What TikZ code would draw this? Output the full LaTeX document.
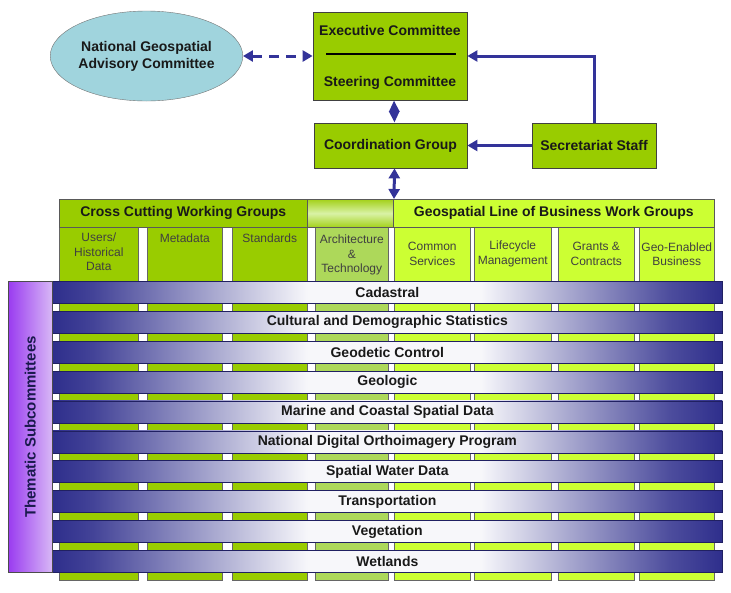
\documentclass[tikz,border=0pt]{standalone}
\usepackage{fontspec}
\setmainfont{Liberation Sans}
\usetikzlibrary{shapes.geometric,arrows.meta}
\definecolor{gbox}{HTML}{99CC00}
\definecolor{glime}{HTML}{CCFF33}
\definecolor{garch}{HTML}{ADD85A}
\definecolor{gpale}{HTML}{D9F2A6}
\definecolor{skyfill}{HTML}{A0D4DD}
\definecolor{navy}{HTML}{333399}
\definecolor{barblue}{HTML}{2E2E8C}
\definecolor{themdark}{HTML}{9A3CF0}
\definecolor{themlight}{HTML}{D8B8F6}
\pgfdeclarehorizontalshading{barshade}{100bp}{color(0bp)=(barblue); color(25bp)=(barblue); color(28bp)=(barblue!90!white); color(44bp)=(barblue!4!white); color(57bp)=(barblue!4!white); color(71bp)=(barblue!85!white); color(75bp)=(barblue); color(100bp)=(barblue)}
\newcommand{\bigbf}{\bfseries\fontsize{14}{17}\selectfont}
\newcommand{\colfont}{\fontsize{12}{14.5}\selectfont}
\tikzset{
  topbox/.style={draw=black!75, fill=gbox, line width=0.8pt, inner sep=0pt, font=\bigbf, text=black!90},
  hdrbox/.style={draw=black!65, line width=0.6pt, inner sep=0pt, anchor=north west, minimum height=28, font=\bigbf, text=black!90},
  colbox/.style={draw=black!60, line width=0.6pt, inner sep=0pt, anchor=north west, minimum height=353},
  collabel/.style={align=center, font=\colfont, text=black!75, inner sep=0pt},
  subbar/.style={draw=barblue!70!black, line width=0.7pt, shade, shading=barshade, inner sep=0pt, anchor=north west, minimum width=670, minimum height=22, font=\bigbf, text=black!90},
  conn/.style={draw=navy, line width=3pt},
  headone/.style={-{Triangle[width=11pt,length=10pt]}},
  headtwo/.style={{Triangle[width=11pt,length=10pt]}-{Triangle[width=11pt,length=10pt]}},
  diamondtips/.style={{Triangle[width=10pt,length=11.5pt]}-{Triangle[width=10pt,length=11.5pt]}}
}
\begin{document}
\begin{tikzpicture}[x=1pt,y=-1pt]
\useasboundingbox (0,0) rectangle (731,592);
% top part
\node[ellipse, draw=black!55, fill=skyfill, minimum width=177, minimum height=90, inner sep=0pt, align=center, font=\bigbf, text=black!90] (ngac) at (146.5,56) {National Geospatial\\Advisory Committee};
\node[topbox, minimum width=154, minimum height=88] (steer) at (390,56) {};
\node[font=\bigbf, text=black!90, inner sep=0pt] (exectxt) at (390,30) {Executive Committee};
\node[font=\bigbf, text=black!90, inner sep=0pt] (steertxt) at (390,83) {Steering Committee};
\draw[line width=1.2pt] (326,54) -- (456,54);
\node[topbox, minimum width=153, minimum height=45] (coord) at (390.5,145.5) {Coordination Group};
\node[topbox, minimum width=124, minimum height=45] (secr) at (594,145.5) {Secretariat Staff};
\coordinate (hubtop) at (394,199);
\draw[conn, headtwo, dash pattern=on 10pt off 7pt] (ngac) -- (steer);
\draw[conn, diamondtips] ([xshift=4pt]steer.south) -- ([xshift=4pt]coord.north);
\draw[conn, headtwo] ([xshift=4pt]coord.south) -- (hubtop);
\draw[conn, headone] (secr.north) |- (steer.east);
\draw[conn, headone] (secr) -- (coord);
% working group columns
\foreach \xa/\xb/\colr/\nm in {59/138/gbox/users, 147/222/gbox/meta, 232/307/gbox/stand, 315/388/garch/arch, 394/470/glime/common, 474/551/glime/life, 558/634/glime/grants, 639/714/glime/geo}
  \node[colbox, fill=\colr, minimum width={\xb-\xa}] (col\nm) at (\xa,227) {};
\node[hdrbox, fill=gbox, minimum width=248] (cchdr) at (59,199) {Cross Cutting Working Groups};
\node[hdrbox, top color=gbox!90, bottom color=gbox!90, middle color=gpale, minimum width=86] (midhdr) at (307,199) {};
\node[hdrbox, fill=glime, minimum width=321] (geohdr) at (393,199) {Geospatial Line of Business Work Groups};
\node[collabel] (lblusers) at ([yshift=-25pt]colusers.north) {Users/\\Historical\\Data};
\node[collabel] (lblmeta) at ([yshift=-11pt]colmeta.north) {Metadata};
\node[collabel] (lblstand) at ([yshift=-11pt]colstand.north) {Standards};
\node[collabel] (lblarch) at ([yshift=-28pt]colarch.north) {Architecture\\\&\\Technology};
\node[collabel] (lblcommon) at ([yshift=-27pt]colcommon.north) {Common\\Services};
\node[collabel] (lbllife) at ([yshift=-27pt]collife.north) {Lifecycle\\Management};
\node[collabel] (lblgrants) at ([yshift=-27pt]colgrants.north) {Grants \&\\Contracts};
\node[collabel] (lblgeo) at ([yshift=-27pt]colgeo.north) {Geo-Enabled\\Business};
% thematic subcommittee bars
\foreach \lbl [count=\i from 0] in {Cadastral, Cultural and Demographic Statistics, Geodetic Control, Geologic, Marine and Coastal Spatial Data, National Digital Orthoimagery Program, Spatial Water Data, Transportation, Vegetation, Wetlands}
  \node[subbar] (bar\i) at (52,{281+29.9*\i}) {\lbl};
\node[draw=black!70, line width=0.7pt, left color=themdark, right color=themlight, anchor=north west, minimum width=44, minimum height=291, inner sep=0pt] (thematic) at (8,281) {};
\node[rotate=90, font=\bfseries\fontsize{15}{18}\selectfont, text=navy!50!black, inner sep=0pt] (themlabel) at (thematic.center) {Thematic Subcommittees};
\end{tikzpicture}
\end{document}
